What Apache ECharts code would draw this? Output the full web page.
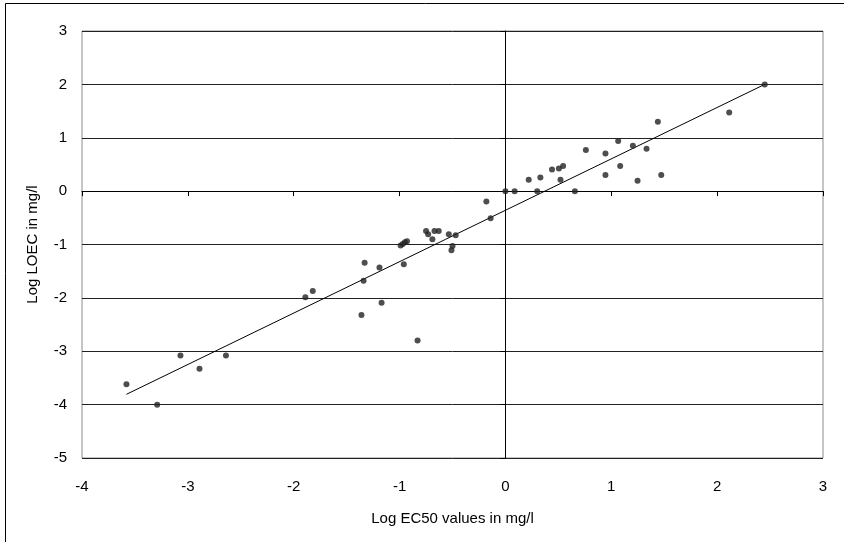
<!DOCTYPE html>
<html>
<head>
<meta charset="utf-8">
<style>
  html, body { margin: 0; padding: 0; background: #fff; }
  #chart { width: 844px; height: 542px; }
</style>
<script src="https://cdn.jsdelivr.net/npm/echarts@6/dist/echarts.min.js"></script>
</head>
<body>
<div id="chart"></div>
<script>
// Log EC50 (x) against Log LOEC (y), both in mg/l
const logEC50 = [
  -3.58, -3.29, -3.07, -2.89, -2.64,
  -1.89, -1.82, -1.33, -1.34, -1.36, -1.19, -1.17, -0.83, -0.96,
  -0.99, -0.97, -0.95, -0.93,
  -0.75, -0.73, -0.69, -0.67, -0.63, -0.535, -0.47, -0.50, -0.51,
  -0.18, -0.14,
  0.0, 0.087, 0.22, 0.33, 0.30, 0.44, 0.505, 0.545, 0.52, 0.656,
  0.76, 0.945, 0.945, 1.065, 1.084, 1.204, 1.248, 1.333, 1.44, 1.472,
  2.114, 2.45
];
const logLOEC = [
  -3.62, -4.0, -3.08, -3.33, -3.08,
  -1.99, -1.87, -1.34, -1.68, -2.32, -1.43, -2.09, -2.80, -1.37,
  -1.02, -0.99, -0.96, -0.94,
  -0.745, -0.81, -0.90, -0.745, -0.745, -0.81, -0.825, -1.03, -1.11,
  -0.195, -0.507,
  0.0, 0.0, 0.212, 0.255, 0.0, 0.405, 0.424, 0.469, 0.212, 0.0,
  0.77, 0.705, 0.30, 0.94, 0.469, 0.85, 0.193, 0.794, 1.30, 0.30,
  1.475, 2.0
];

// Linear trendline fitted to the points
const trendSlope = 0.963;
const trendIntercept = -0.359;

const xTicks = [-4, -3, -2, -1, 0, 1, 2, 3];
const yTicks = [-5, -4, -3, -2, -1, 0, 1, 2, 3];

const points = logEC50.map((x, i) => [x, logLOEC[i]]);
const xLo = Math.min(...logEC50);
const xHi = Math.max(...logEC50);
const trend = [
  [xLo, trendSlope * xLo + trendIntercept],
  [xHi, trendSlope * xHi + trendIntercept]
];

const FONT = '"Liberation Sans", Arial, sans-serif';
const chart = echarts.init(document.getElementById('chart'), null, { renderer: 'canvas' });

chart.setOption({
  animation: false,
  backgroundColor: '#fff',
  textStyle: { fontFamily: FONT },
  graphic: [{
    type: 'rect',
    shape: { x: 5.5, y: 3.5, width: 900, height: 700 },
    style: { fill: 'none', stroke: '#000', lineWidth: 1 },
    silent: true
  }],
  grid: {
    left: 82, right: 21, top: 31, bottom: 84,
    show: true, borderColor: '#8c8c8c', borderWidth: 1, backgroundColor: 'transparent'
  },
  xAxis: [{
    type: 'value',
    min: xTicks[0], max: xTicks[xTicks.length - 1], interval: 1,
    position: 'bottom',
    name: 'Log EC50 values in mg/l',
    nameLocation: 'middle', nameGap: 53,
    nameTextStyle: { fontFamily: FONT, fontSize: 15, color: '#000' },
    axisLine: { onZero: false, show: false },
    axisTick: { show: false },
    splitLine: { show: false },
    axisLabel: { fontFamily: FONT, fontSize: 15, color: '#000', margin: 21 }
  }, {
    // axis drawn through y = 0 with its tick marks
    type: 'value',
    min: xTicks[0], max: xTicks[xTicks.length - 1], interval: 1,
    position: 'top',
    axisLine: { onZero: true, show: true, lineStyle: { color: '#000', width: 1 } },
    axisTick: { show: true, inside: true, length: 5, lineStyle: { color: '#000' } },
    axisLabel: { show: false },
    splitLine: { show: false }
  }],
  yAxis: [{
    type: 'value',
    min: yTicks[0], max: yTicks[yTicks.length - 1], interval: 1,
    position: 'left',
    name: 'Log LOEC in mg/l',
    nameLocation: 'middle', nameGap: 42, nameRotate: 90,
    nameTextStyle: { fontFamily: FONT, fontSize: 15, color: '#000' },
    axisLine: { onZero: false, show: false },
    axisTick: { show: false },
    splitLine: { show: true, lineStyle: { color: '#222', width: 1 } },
    axisLabel: { fontFamily: FONT, fontSize: 15, color: '#000', margin: 15 }
  }, {
    // axis drawn through x = 0 with its tick marks
    type: 'value',
    min: yTicks[0], max: yTicks[yTicks.length - 1], interval: 1,
    position: 'right',
    axisLine: { onZero: true, show: true, lineStyle: { color: '#000', width: 1 } },
    axisTick: { show: true, inside: true, length: 5, lineStyle: { color: '#000' } },
    axisLabel: { show: false },
    splitLine: { show: false }
  }],
  series: [{
    type: 'line',
    data: trend,
    xAxisIndex: 0, yAxisIndex: 0,
    symbol: 'none',
    lineStyle: { color: '#000', width: 1 },
    silent: true,
    z: 3
  }, {
    type: 'scatter',
    data: points,
    xAxisIndex: 0, yAxisIndex: 0,
    symbol: 'circle',
    symbolSize: 6,
    itemStyle: { color: '#222' },
    z: 4
  }]
});
</script>
</body>
</html>
